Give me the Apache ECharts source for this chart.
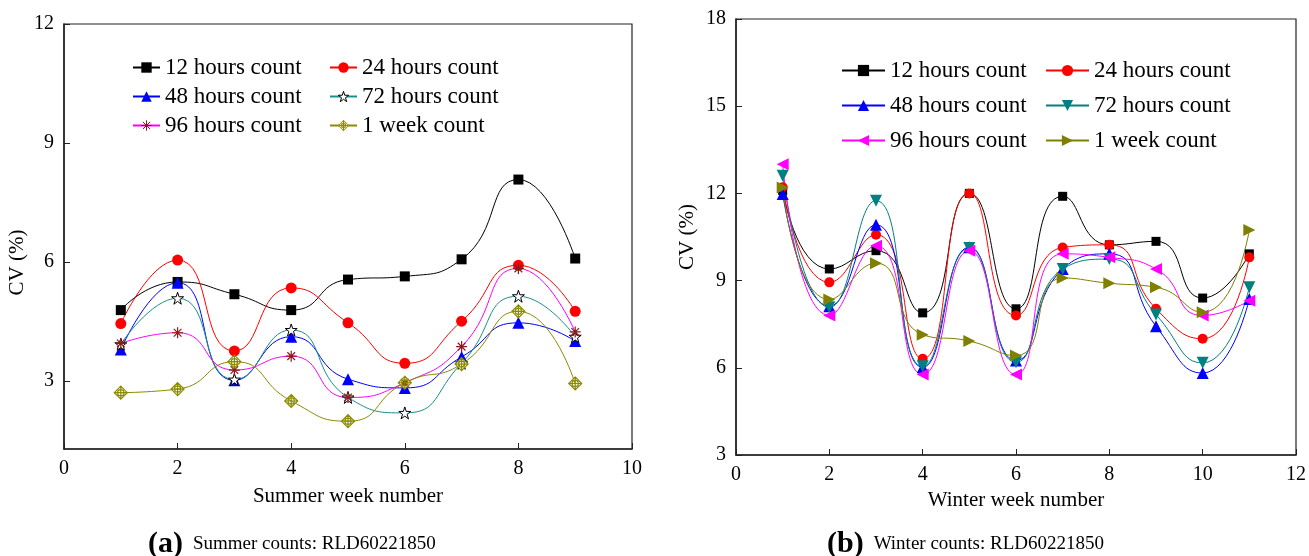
<!DOCTYPE html>
<html>
<head>
<meta charset="utf-8">
<script src="https://cdn.jsdelivr.net/npm/echarts@6/dist/echarts.min.js"></script>
<style>html,body{margin:0;padding:0;background:#fff;}#c{width:1309px;height:556px;}</style>
</head>
<body>
<div id="c"></div>
<script>
// ---------- data ----------
const seriesNames = ['12 hours count', '24 hours count', '48 hours count', '72 hours count', '96 hours count', '1 week count'];

const summerWeeks = [1, 2, 3, 4, 5, 6, 7, 8, 9];
const summer12h = [4.79, 5.50, 5.19, 4.79, 5.56, 5.64, 6.07, 8.08, 6.09];
const summer24h = [4.45, 6.05, 3.76, 5.35, 4.47, 3.45, 4.51, 5.92, 4.76];
const summer48h = [3.80, 5.48, 3.02, 4.12, 3.05, 2.83, 3.61, 4.47, 4.01];
const summer72h = [3.93, 5.09, 3.04, 4.29, 2.59, 2.20, 3.45, 5.14, 4.12];
const summer96h = [3.95, 4.22, 3.28, 3.63, 2.59, 2.96, 3.87, 5.84, 4.24];
const summer1w  = [2.71, 2.80, 3.49, 2.50, 1.99, 2.96, 3.43, 4.76, 2.94];

const winterWeeks = [1, 2, 3, 4, 5, 6, 7, 8, 9, 10, 11];
const winter12h = [12.10, 9.40, 10.03, 7.89, 12.00, 8.03, 11.90, 10.23, 10.35, 8.40, 9.92];
const winter24h = [12.21, 8.94, 10.58, 6.31, 12.00, 7.80, 10.14, 10.23, 8.03, 7.00, 9.80];
const winter48h = [11.98, 8.12, 10.92, 6.02, 10.15, 6.25, 9.40, 9.92, 7.43, 5.82, 8.37];
const winter72h = [12.61, 8.08, 11.75, 6.05, 10.12, 6.19, 9.40, 9.74, 7.83, 6.17, 8.77];
const winter96h = [13.00, 7.80, 10.20, 5.77, 10.03, 5.77, 9.92, 9.80, 9.40, 7.80, 8.31];
const winter1w  = [12.20, 8.35, 9.60, 7.14, 6.92, 6.42, 9.09, 8.91, 8.77, 7.91, 10.74];

const summerYTicks = [3, 6, 9, 12];
const summerCaptionTag = '(a)';
const summerCaption = 'Summer counts: RLD60221850';
const winterCaptionTag = '(b)';
const winterCaption = 'Winter counts: RLD60221850';

// ---------- styles ----------
const FONT = 'Liberation Serif';
const SYM = {
  star: 'path://M5,0 L6.2,3.6 L10,3.6 L6.9,5.9 L8.1,9.5 L5,7.3 L1.9,9.5 L3.1,5.9 L0,3.6 L3.8,3.6 Z',
  asterisk: 'path://M5,0 L5,10 M0,5 L10,5 M1.5,1.5 L8.5,8.5 M8.5,1.5 L1.5,8.5',
  diamondCross: 'path://M5,0 L10,5 L5,10 L0,5 Z M5,0 L5,10 M0,5 L10,5 M2.6,5 A2.4,2.4 0 1,0 7.4,5 A2.4,2.4 0 1,0 2.6,5',
  down: 'path://M0,0 L10,0 L5,9 Z',
  left: 'path://M0,5 L9,0 L9,10 Z',
  right: 'path://M0,0 L9,5 L0,10 Z'
};

function pairs(xs, ys) { return xs.map((x, i) => [x, ys[i]]); }

function mkSeries(name, idx, xs, ys, lineColor, symbol, size, itemStyle) {
  return {
    name: name, type: 'line', xAxisIndex: idx, yAxisIndex: idx,
    data: pairs(xs, ys), smooth: 0.55, symbol: symbol, symbolSize: size,
    showAllSymbol: true,
    lineStyle: { color: lineColor, width: 1 },
    itemStyle: itemStyle || { color: lineColor },
    emphasis: { disabled: true },
    animation: false
  };
}

const W = ' '; // suffix to keep winter series names distinct
const series = [
  mkSeries(seriesNames[0], 0, summerWeeks, summer12h, '#000000', 'rect', 10),
  mkSeries(seriesNames[1], 0, summerWeeks, summer24h, '#ff0000', 'circle', 11),
  mkSeries(seriesNames[2], 0, summerWeeks, summer48h, '#0000ff', 'triangle', 12),
  mkSeries(seriesNames[3], 0, summerWeeks, summer72h, '#1a8f8f', SYM.star, 12, { color: '#ffffff', borderColor: '#000000', borderWidth: 1 }),
  mkSeries(seriesNames[4], 0, summerWeeks, summer96h, '#ff00ff', SYM.asterisk, 11, { color: '#8b1a1a', borderColor: '#8b1a1a', borderWidth: 1.2 }),
  mkSeries(seriesNames[5], 0, summerWeeks, summer1w, '#8b8b00', SYM.diamondCross, 13, { color: '#ffffff', borderColor: '#8b8b00', borderWidth: 1.2 }),

  mkSeries(seriesNames[0] + W, 1, winterWeeks, winter12h, '#000000', 'rect', 9),
  mkSeries(seriesNames[1] + W, 1, winterWeeks, winter24h, '#ff0000', 'circle', 10),
  mkSeries(seriesNames[2] + W, 1, winterWeeks, winter48h, '#0000ff', 'triangle', 12),
  mkSeries(seriesNames[3] + W, 1, winterWeeks, winter72h, '#008080', SYM.down, 12),
  mkSeries(seriesNames[4] + W, 1, winterWeeks, winter96h, '#ff00ff', SYM.left, 12),
  mkSeries(seriesNames[5] + W, 1, winterWeeks, winter1w, '#808000', SYM.right, 12)
];

const axisLine = { show: true, onZero: false, lineStyle: { color: '#222', width: 1.5 } };
const axisTick = { show: true, inside: true, length: 6, lineStyle: { color: '#222', width: 1 } };
const labelStyle = { fontFamily: FONT, fontSize: 20, color: '#000', margin: 10 };
const nameStyle = { fontFamily: FONT, fontSize: 21, color: '#000' };

function legend(left, top, data, iw, ih, gap) {
  return {
    orient: 'vertical', left: left, top: top, padding: 0,
    itemWidth: iw, itemHeight: ih, itemGap: gap,
    data: data, selectedMode: false,
    itemStyle: { borderWidth: 0 },
    textStyle: { fontFamily: FONT, fontSize: 23, color: '#000', lineHeight: 23 }
  };
}
const thin = (name) => ({ name: name, itemStyle: { borderWidth: 1 } });

const richCap = {
  b: { fontFamily: FONT, fontWeight: 'bold', fontSize: 30, color: '#000' },
  n: { fontFamily: FONT, fontWeight: 'normal', fontSize: 19, color: '#000' }
};

const option = {
  backgroundColor: '#fff',
  animation: false,
  title: [
    { text: '{b|' + summerCaptionTag + '}  {n|' + summerCaption + '}', left: 148, top: 529, padding: 0,
      textStyle: { fontWeight: 'normal', rich: richCap } },
    { text: '{b|' + winterCaptionTag + '}  {n|' + winterCaption + '}', left: 827, top: 529, padding: 0,
      textStyle: { fontWeight: 'normal', rich: richCap } }
  ],
  legend: [
    legend(132, 56, [seriesNames[0], seriesNames[2], thin(seriesNames[4])], 27, 13, 6),
    legend(329, 56, [seriesNames[1], thin(seriesNames[3]), thin(seriesNames[5])], 27, 13, 6),
    legend(841, 59, [seriesNames[0] + W, seriesNames[2] + W, seriesNames[4] + W], 43, 14, 12),
    legend(1045, 59, [seriesNames[1] + W, seriesNames[3] + W, seriesNames[5] + W], 43, 14, 12)
  ],
  grid: [
    { left: 64, top: 24, width: 568, height: 425, show: true, borderColor: '#222', borderWidth: 1.2, backgroundColor: 'transparent' },
    { left: 736, top: 19, width: 561, height: 436, show: true, borderColor: '#222', borderWidth: 1.2, backgroundColor: 'transparent' }
  ],
  xAxis: [
    { type: 'value', gridIndex: 0, min: 0, max: 10, interval: 2,
      name: 'Summer week number', nameLocation: 'middle', nameGap: 37, nameTextStyle: nameStyle,
      axisLine: axisLine, axisTick: axisTick, axisLabel: labelStyle, splitLine: { show: false } },
    { type: 'value', gridIndex: 1, min: 0, max: 12, interval: 2,
      name: 'Winter week number', nameLocation: 'middle', nameGap: 30, nameTextStyle: nameStyle,
      axisLine: axisLine, axisTick: axisTick, axisLabel: labelStyle, splitLine: { show: false } }
  ],
  yAxis: [
    { type: 'value', gridIndex: 0, min: 1.29, max: 12,
      name: 'CV (%)', nameLocation: 'middle', nameGap: 36,
      nameTextStyle: Object.assign({}, nameStyle, { padding: [0, 52, 0, 0] }),
      axisLine: axisLine,
      axisTick: Object.assign({}, axisTick, { customValues: summerYTicks }),
      axisLabel: Object.assign({}, labelStyle, { customValues: summerYTicks }),
      splitLine: { show: false } },
    { type: 'value', gridIndex: 1, min: 3, max: 18, interval: 3,
      name: 'CV (%)', nameLocation: 'middle', nameGap: 38, nameTextStyle: nameStyle,
      axisLine: axisLine, axisTick: axisTick, axisLabel: labelStyle, splitLine: { show: false } }
  ],
  series: series
};

const chart = echarts.init(document.getElementById('c'), null, { renderer: 'canvas' });
chart.setOption(option);
</script>
</body>
</html>
